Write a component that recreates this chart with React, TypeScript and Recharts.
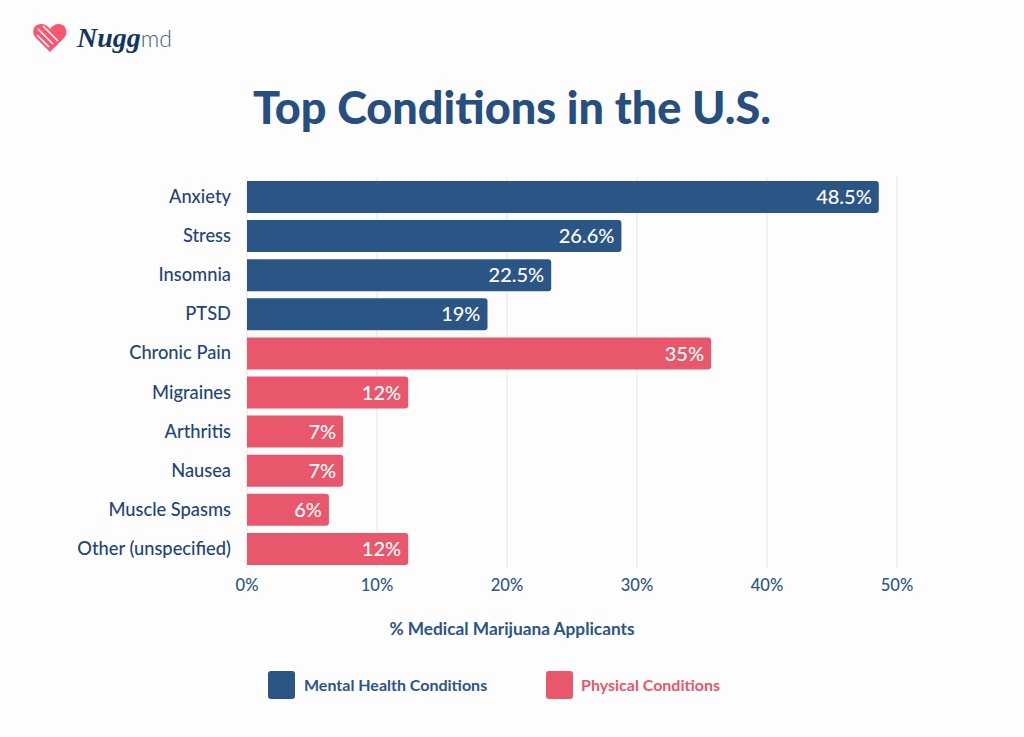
import React from "react";
import { BarChart, Bar, XAxis, YAxis, CartesianGrid, LabelList, Legend } from "recharts";

const categories = ["Anxiety", "Stress", "Insomnia", "PTSD", "Chronic Pain", "Migraines", "Arthritis", "Nausea", "Muscle Spasms", "Other (unspecified)"];
const mentalValues = [48.6, 28.8, 23.4, 18.5, null, null, null, null, null, null];
const physicalValues = [null, null, null, null, 35.7, 12.4, 7.4, 7.4, 6.3, 12.4];
const mentalLabels = ["48.5%", "26.6%", "22.5%", "19%", "", "", "", "", "", ""];
const physicalLabels = ["", "", "", "", "35%", "12%", "7%", "7%", "6%", "12%"];
const xTicks = [0, 10, 20, 30, 40, 50];

const NAVY = "#2b5585";
const RED = "#e8576b";
const FONT = "Lato, 'Open Sans', sans-serif";

const data = categories.map((name, i) => ({
  name,
  mental: mentalValues[i],
  physical: physicalValues[i],
  mentalLabel: mentalLabels[i],
  physicalLabel: physicalLabels[i],
}));

const LegendContent = () => (
  <div style={{ position: "relative", width: 1024, height: 30, fontFamily: FONT, fontSize: 16, fontWeight: 700 }}>
    <div style={{ position: "absolute", left: 268, top: 0, width: 27, height: 28, borderRadius: 3, background: NAVY }} />
    <div style={{ position: "absolute", left: 304, top: 4, color: NAVY, whiteSpace: "nowrap" }}>Mental Health Conditions</div>
    <div style={{ position: "absolute", left: 546, top: 0, width: 27, height: 28, borderRadius: 3, background: RED }} />
    <div style={{ position: "absolute", left: 581, top: 4, color: RED, whiteSpace: "nowrap" }}>Physical Conditions</div>
  </div>
);

const Logo = () => (
  <div style={{ position: "absolute", left: 0, top: 0, width: 200, height: 70 }}>
    <svg width={200} height={70} style={{ position: "absolute", left: 0, top: 0 }}>
      <path d="M50 52 L36 38 C31 33 33 24 41 24 C45 24 48 26 50 29 C52 26 55 24 59 24 C66 24 69 33 64 38 Z" fill="#f9566f" />
      <path d="M38 29 L53 44 M43 26 L58 41 M37 35 L49 47" stroke="#fff" strokeWidth={1.6} fill="none" />
    </svg>
    <div style={{ position: "absolute", left: 77, top: 21, fontFamily: "'Liberation Serif', serif", fontStyle: "italic", fontWeight: 700, fontSize: 28, lineHeight: "34px", color: "#12365f", whiteSpace: "nowrap" }}>
      Nugg<span style={{ fontFamily: FONT, fontStyle: "normal", fontWeight: 300, fontSize: 23, color: "#3f6184", marginLeft: 0 }}>md</span>
    </div>
  </div>
);

export default function App() {
  return (
    <div style={{ position: "absolute", left: 0, top: 0, width: 1024, height: 737, background: "#fdfdfd", overflow: "hidden" }}>
      <Logo />
      <div style={{ position: "absolute", left: 0, width: 1024, top: 80, textAlign: "center", fontFamily: FONT, fontWeight: 900, fontSize: 45, lineHeight: "54px", color: "#264f80" }}>
        Top Conditions in the U.S.
      </div>
      <BarChart
        width={1024}
        height={737}
        data={data}
        layout="vertical"
        barSize={32}
        margin={{ top: 177, right: 127, bottom: 109, left: 0 }}
        style={{ position: "absolute", left: 0, top: 0 }}
      >
        <CartesianGrid horizontal={false} stroke="#ebebeb" strokeWidth={1.5} />
        <XAxis
          type="number"
          domain={[0, 50]}
          ticks={xTicks}
          tickFormatter={(v: number) => `${v}%`}
          axisLine={false}
          tickLine={false}
          tickMargin={5}
          tick={{ fill: NAVY, fontFamily: FONT, fontSize: 16.5, fontWeight: 500 }}
          label={{ value: "% Medical Marijuana Applicants", position: "insideBottom", offset: -37, dx: -60, fill: NAVY, fontFamily: FONT, fontSize: 17.3, fontWeight: 700 }}
        />
        <YAxis
          type="category"
          dataKey="name"
          axisLine={false}
          tickLine={false}
          width={247}
          tickMargin={10}
          tick={{ fill: "#1f4577", fontFamily: FONT, fontSize: 18.3, fontWeight: 500 }}
          interval={0}
        />
        <Legend verticalAlign="bottom" content={<LegendContent />} wrapperStyle={{ position: "absolute", left: 0, top: 671, width: 1024 }} />
        <Bar dataKey="mental" name="Mental Health Conditions" stackId="a" fill={NAVY} radius={[0, 3, 3, 0]} isAnimationActive={false}>
          <LabelList dataKey="mentalLabel" position="insideRight" offset={7} fill="#ffffff" fontFamily={FONT} fontSize={20} fontWeight={500} />
        </Bar>
        <Bar dataKey="physical" name="Physical Conditions" stackId="a" fill={RED} radius={[0, 3, 3, 0]} isAnimationActive={false}>
          <LabelList dataKey="physicalLabel" position="insideRight" offset={7} fill="#ffffff" fontFamily={FONT} fontSize={20} fontWeight={500} />
        </Bar>
      </BarChart>
    </div>
  );
}
